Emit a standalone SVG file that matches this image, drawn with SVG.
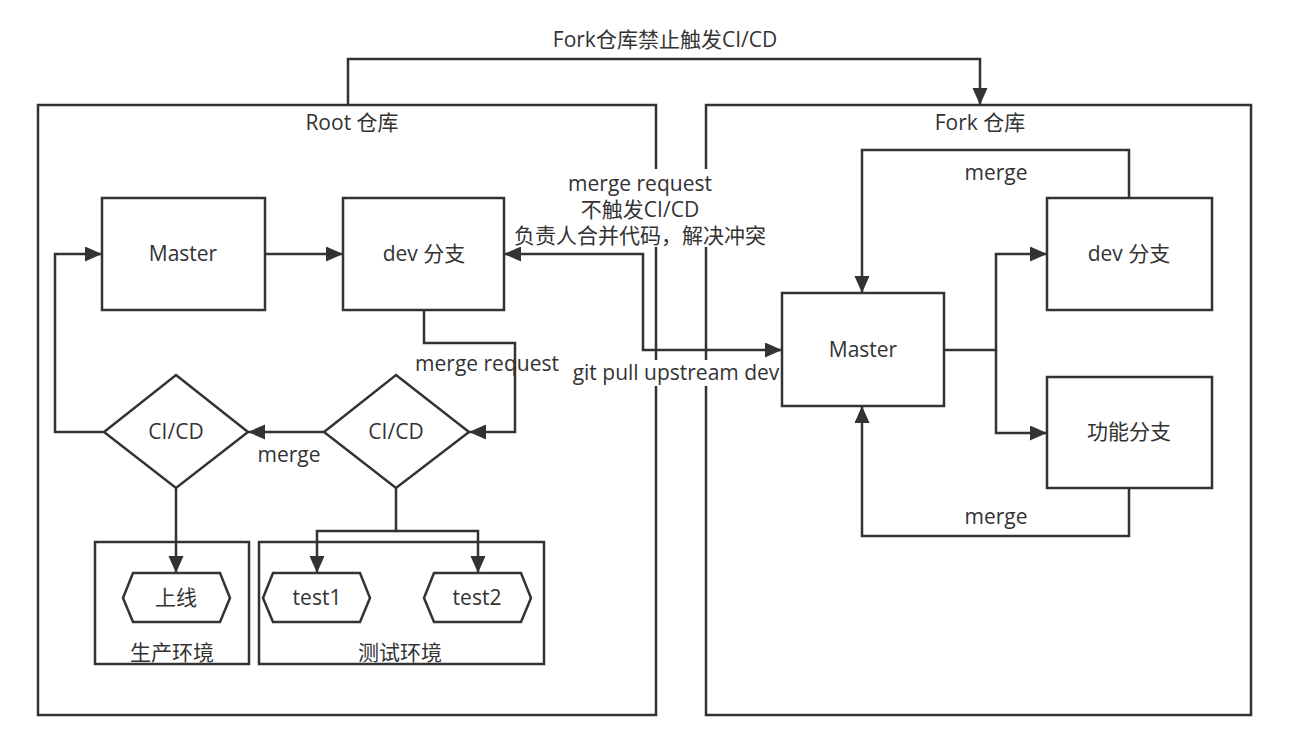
<svg xmlns="http://www.w3.org/2000/svg" width="1291" height="756" viewBox="0 0 1291 756">
<style>
.s{fill:#fff;stroke:#333;stroke-width:2.5}
.c{fill:none;stroke:#333;stroke-width:2.5}
.t{font-family:"Open Sans","Noto Sans CJK SC",sans-serif;font-size:21px;fill:#333;text-anchor:middle}
.bg{fill:#fff;stroke:none}
</style>
<defs>
<marker id="a" markerUnits="userSpaceOnUse" markerWidth="18" markerHeight="16" refX="17" refY="7.5" orient="auto">
<path d="M0,0 L17,7.5 L0,15 z" fill="#333"/>
</marker>
<marker id="as" markerUnits="userSpaceOnUse" markerWidth="18" markerHeight="16" refX="0" refY="7.5" orient="auto">
<path d="M17,0 L0,7.5 L17,15 z" fill="#333"/>
</marker>
</defs>
<rect width="1291" height="756" fill="#fff"/>
<g id="root-repo"><rect class="s" x="38" y="105" width="618" height="610"/><text class="t" x="352" y="130">Root 仓库</text></g>
<g id="fork-repo"><rect class="s" x="706" y="105" width="545" height="610"/><text class="t" x="980" y="130">Fork 仓库</text></g>
<g id="prod-env"><rect class="s" x="95" y="542" width="154" height="122"/><text class="t" x="172" y="660">生产环境</text></g>
<g id="test-env"><rect class="s" x="259" y="542" width="285" height="122"/><text class="t" x="400" y="660">测试环境</text></g>
<g id="connectors">
<path class="c" d="M348,105 V59 H980 V105" marker-end="url(#a)"/>
<path class="c" d="M265,254 H343" marker-end="url(#a)"/>
<path class="c" d="M424,310 V343 H515 V432 H469" marker-end="url(#a)"/>
<path class="c" d="M324,432 H248" marker-end="url(#a)"/>
<path class="c" d="M104,432 H55 V254 H102" marker-end="url(#a)"/>
<path class="c" d="M176,488 V573" marker-end="url(#a)"/>
<path class="c" d="M396,488 V531 H317 V573" marker-end="url(#a)"/>
<path class="c" d="M396,531 H478 V573" marker-end="url(#a)"/>
<path class="c" d="M504,254 H643 V350 H782" marker-start="url(#as)" marker-end="url(#a)"/>
<path class="c" d="M944,350 H996 V254 H1047" marker-end="url(#a)"/>
<path class="c" d="M996,350 V433 H1047" marker-end="url(#a)"/>
<path class="c" d="M1129,198 V150 H862 V293" marker-end="url(#a)"/>
<path class="c" d="M1129,488 V536 H862 V406" marker-end="url(#a)"/>
</g>
<g id="labels">
<text class="t" x="665" y="47">Fork仓库禁止触发CI/CD</text>
<rect class="bg" x="511" y="169" width="258" height="78"/>
<text class="t" x="640" y="191">merge request</text>
<text class="t" x="640" y="217">不触发CI/CD</text>
<text class="t" x="640" y="243">负责人合并代码，解决冲突</text>
<rect class="bg" x="568" y="360" width="212" height="26"/>
<text class="t" x="676" y="380">git pull upstream dev</text>
<text class="t" x="487" y="371">merge request</text>
<text class="t" x="289" y="462">merge</text>
<text class="t" x="996" y="180">merge</text>
<text class="t" x="996" y="524">merge</text>
</g>
<g id="root-master"><rect class="s" x="102" y="198" width="163" height="112"/><text class="t" x="183" y="261">Master</text></g>
<g id="root-dev"><rect class="s" x="343" y="198" width="161" height="112"/><text class="t" x="424" y="261">dev 分支</text></g>
<g id="cicd-prod"><polygon class="s" points="176,375 248,432 176,488 104,432"/><text class="t" x="176" y="439">CI/CD</text></g>
<g id="cicd-test"><polygon class="s" points="396,375 469,432 396,488 324,432"/><text class="t" x="396" y="439">CI/CD</text></g>
<g id="deploy"><polygon class="s" points="123,598 133,573 220,573 230,598 220,622 133,622"/><text class="t" x="176" y="605">上线</text></g>
<g id="test1"><polygon class="s" points="263,598 273,573 360,573 370,598 360,622 273,622"/><text class="t" x="317" y="605">test1</text></g>
<g id="test2"><polygon class="s" points="424,598 434,573 521,573 531,598 521,622 434,622"/><text class="t" x="477" y="605">test2</text></g>
<g id="fork-master"><rect class="s" x="782" y="293" width="162" height="113"/><text class="t" x="863" y="357">Master</text></g>
<g id="fork-dev"><rect class="s" x="1047" y="198" width="165" height="112"/><text class="t" x="1129" y="261">dev 分支</text></g>
<g id="fork-feature"><rect class="s" x="1047" y="377" width="165" height="111"/><text class="t" x="1129" y="439">功能分支</text></g>
</svg>
